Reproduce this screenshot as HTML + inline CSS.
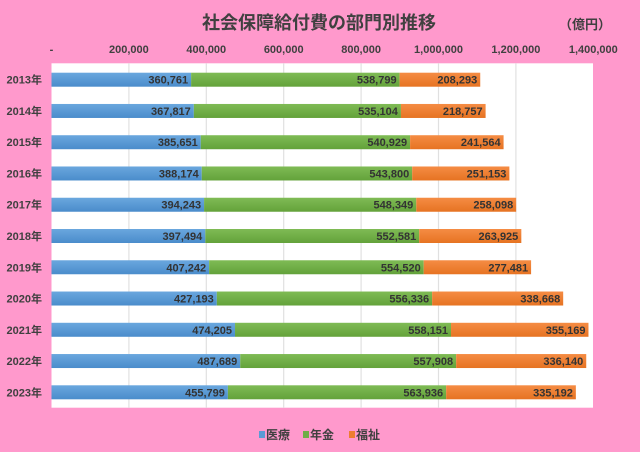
<!DOCTYPE html>
<html><head><meta charset="utf-8"><style>
html,body{margin:0;padding:0;background:#ff99cc;}
svg{display:block;font-family:"Liberation Sans","Noto Sans CJK JP",sans-serif;font-weight:bold;}
</style></head><body>
<svg width="640" height="452" viewBox="0 0 640 452" xmlns="http://www.w3.org/2000/svg">
<defs>
<linearGradient id="gb" x1="0" y1="0" x2="0" y2="1"><stop offset="0" stop-color="#6aa7de"/><stop offset="1" stop-color="#4a8ccb"/></linearGradient>
<linearGradient id="gg" x1="0" y1="0" x2="0" y2="1"><stop offset="0" stop-color="#7fbb55"/><stop offset="1" stop-color="#63a23a"/></linearGradient>
<linearGradient id="go" x1="0" y1="0" x2="0" y2="1"><stop offset="0" stop-color="#f58c44"/><stop offset="1" stop-color="#e67322"/></linearGradient>
</defs>
<rect width="640" height="452" fill="#ff99cc"/>
<text x="319" y="29" font-size="18" fill="#404040" text-anchor="middle">社会保障給付費の部門別推移</text>
<text x="585" y="29" font-size="13" fill="#404040" text-anchor="middle">（億円）</text>
<rect x="51.5" y="63.3" width="541.5" height="344.4" fill="#fff"/>
<g stroke="#e0e0e0" stroke-width="1.2">
<line x1="128.9" y1="63.3" x2="128.9" y2="407.7"/><line x1="206.3" y1="63.3" x2="206.3" y2="407.7"/>
<line x1="283.7" y1="63.3" x2="283.7" y2="407.7"/><line x1="361.1" y1="63.3" x2="361.1" y2="407.7"/>
<line x1="438.5" y1="63.3" x2="438.5" y2="407.7"/><line x1="515.9" y1="63.3" x2="515.9" y2="407.7"/>
</g>
<g font-size="11" fill="#404040" text-anchor="middle">
<text x="51.5" y="53">-</text><text x="128.9" y="53">200,000</text><text x="206.3" y="53">400,000</text>
<text x="283.7" y="53">600,000</text><text x="361.1" y="53">800,000</text><text x="438.5" y="53">1,000,000</text>
<text x="515.9" y="53">1,200,000</text><text x="593.3" y="53">1,400,000</text>
</g>
<g font-size="11" fill="#333">
<g transform="translate(0,72.7)"><text x="42" y="11" text-anchor="end" fill="#404040">2013年</text>
<rect x="51.5" y="0" width="139.61" height="14" fill="url(#gb)"/><rect x="191.11" y="0" width="208.52" height="14" fill="url(#gg)"/><rect x="399.63" y="0" width="80.61" height="14" fill="url(#go)"/>
<g text-anchor="end"><text x="188.1" y="11">360,761</text><text x="396.6" y="11">538,799</text><text x="477.2" y="11">208,293</text></g></g>
<g transform="translate(0,103.96)"><text x="42" y="11" text-anchor="end" fill="#404040">2014年</text>
<rect x="51.5" y="0" width="142.35" height="14" fill="url(#gb)"/><rect x="193.85" y="0" width="207.09" height="14" fill="url(#gg)"/><rect x="400.94" y="0" width="84.66" height="14" fill="url(#go)"/>
<g text-anchor="end"><text x="190.8" y="11">367,817</text><text x="397.9" y="11">535,104</text><text x="482.6" y="11">218,757</text></g></g>
<g transform="translate(0,135.22)"><text x="42" y="11" text-anchor="end" fill="#404040">2015年</text>
<rect x="51.5" y="0" width="149.25" height="14" fill="url(#gb)"/><rect x="200.75" y="0" width="209.34" height="14" fill="url(#gg)"/><rect x="410.09" y="0" width="93.49" height="14" fill="url(#go)"/>
<g text-anchor="end"><text x="197.7" y="11">385,651</text><text x="407.1" y="11">540,929</text><text x="500.6" y="11">241,564</text></g></g>
<g transform="translate(0,166.48)"><text x="42" y="11" text-anchor="end" fill="#404040">2016年</text>
<rect x="51.5" y="0" width="150.22" height="14" fill="url(#gb)"/><rect x="201.72" y="0" width="210.45" height="14" fill="url(#gg)"/><rect x="412.17" y="0" width="97.2" height="14" fill="url(#go)"/>
<g text-anchor="end"><text x="198.7" y="11">388,174</text><text x="409.2" y="11">543,800</text><text x="506.4" y="11">251,153</text></g></g>
<g transform="translate(0,197.74)"><text x="42" y="11" text-anchor="end" fill="#404040">2017年</text>
<rect x="51.5" y="0" width="152.57" height="14" fill="url(#gb)"/><rect x="204.07" y="0" width="212.21" height="14" fill="url(#gg)"/><rect x="416.28" y="0" width="99.88" height="14" fill="url(#go)"/>
<g text-anchor="end"><text x="201.1" y="11">394,243</text><text x="413.3" y="11">548,349</text><text x="513.2" y="11">258,098</text></g></g>
<g transform="translate(0,229)"><text x="42" y="11" text-anchor="end" fill="#404040">2018年</text>
<rect x="51.5" y="0" width="153.83" height="14" fill="url(#gb)"/><rect x="205.33" y="0" width="213.85" height="14" fill="url(#gg)"/><rect x="419.18" y="0" width="102.14" height="14" fill="url(#go)"/>
<g text-anchor="end"><text x="202.3" y="11">397,494</text><text x="416.2" y="11">552,581</text><text x="518.3" y="11">263,925</text></g></g>
<g transform="translate(0,260.26)"><text x="42" y="11" text-anchor="end" fill="#404040">2019年</text>
<rect x="51.5" y="0" width="157.6" height="14" fill="url(#gb)"/><rect x="209.1" y="0" width="214.6" height="14" fill="url(#gg)"/><rect x="423.7" y="0" width="107.39" height="14" fill="url(#go)"/>
<g text-anchor="end"><text x="206.1" y="11">407,242</text><text x="420.7" y="11">554,520</text><text x="528.1" y="11">277,481</text></g></g>
<g transform="translate(0,291.52)"><text x="42" y="11" text-anchor="end" fill="#404040">2020年</text>
<rect x="51.5" y="0" width="165.32" height="14" fill="url(#gb)"/><rect x="216.82" y="0" width="215.3" height="14" fill="url(#gg)"/><rect x="432.12" y="0" width="131.06" height="14" fill="url(#go)"/>
<g text-anchor="end"><text x="213.8" y="11">427,193</text><text x="429.1" y="11">556,336</text><text x="560.2" y="11">338,668</text></g></g>
<g transform="translate(0,322.78)"><text x="42" y="11" text-anchor="end" fill="#404040">2021年</text>
<rect x="51.5" y="0" width="183.52" height="14" fill="url(#gb)"/><rect x="235.02" y="0" width="216" height="14" fill="url(#gg)"/><rect x="451.02" y="0" width="137.45" height="14" fill="url(#go)"/>
<g text-anchor="end"><text x="232" y="11">474,205</text><text x="448" y="11">558,151</text><text x="585.5" y="11">355,169</text></g></g>
<g transform="translate(0,354.04)"><text x="42" y="11" text-anchor="end" fill="#404040">2022年</text>
<rect x="51.5" y="0" width="188.74" height="14" fill="url(#gb)"/><rect x="240.24" y="0" width="215.91" height="14" fill="url(#gg)"/><rect x="456.15" y="0" width="130.09" height="14" fill="url(#go)"/>
<g text-anchor="end"><text x="237.2" y="11">487,689</text><text x="453.1" y="11">557,908</text><text x="583.2" y="11">336,140</text></g></g>
<g transform="translate(0,385.3)"><text x="42" y="11" text-anchor="end" fill="#404040">2023年</text>
<rect x="51.5" y="0" width="176.39" height="14" fill="url(#gb)"/><rect x="227.89" y="0" width="218.24" height="14" fill="url(#gg)"/><rect x="446.13" y="0" width="129.72" height="14" fill="url(#go)"/>
<g text-anchor="end"><text x="224.9" y="11">455,799</text><text x="443.1" y="11">563,936</text><text x="572.9" y="11">335,192</text></g></g>
</g>
<g font-size="12" fill="#404040">
<rect x="259" y="431" width="6" height="7" fill="#5b9bd5"/><text x="266" y="439">医療</text>
<rect x="303" y="431" width="6" height="7" fill="#70ad47"/><text x="310" y="439">年金</text>
<rect x="349" y="431" width="6" height="7" fill="#ed7d31"/><text x="356" y="439">福祉</text>
</g>
</svg>
</body></html>
